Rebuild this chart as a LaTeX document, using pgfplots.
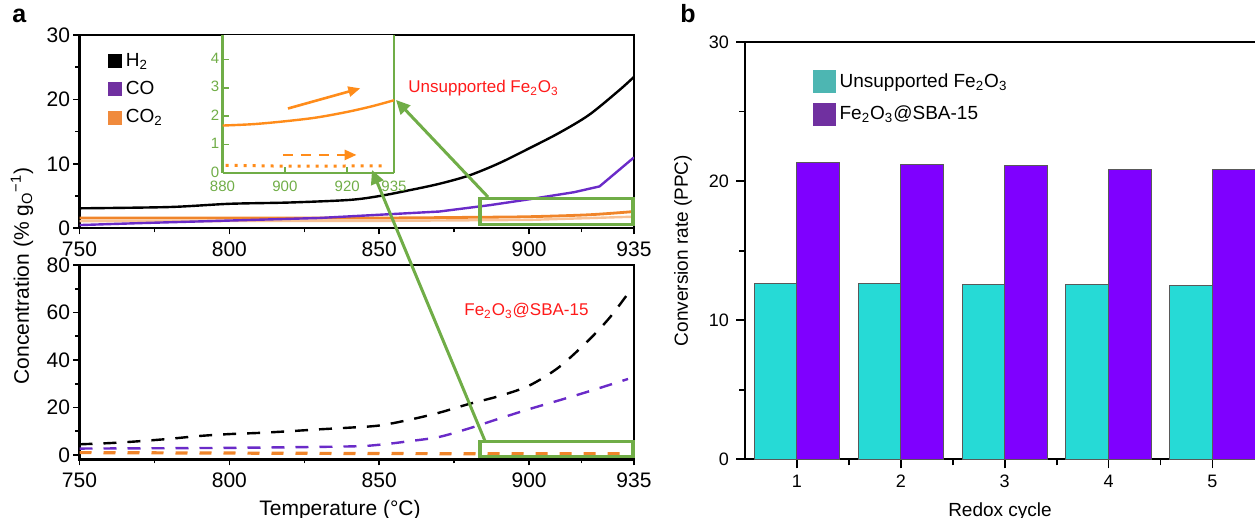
\documentclass[border=0pt]{standalone}
\usepackage{fontspec}
\setmainfont{Liberation Sans}
\usepackage{pgfplots}
\pgfplotsset{compat=1.18}
\usetikzlibrary{arrows.meta}

\definecolor{cCO}{HTML}{6A2BC8}
\definecolor{cCOsw}{HTML}{7030A0}
\definecolor{cCOt}{HTML}{F0852A}
\definecolor{cCOtsw}{HTML}{F08A3C}
\definecolor{cGreen}{HTML}{70AD47}
\definecolor{cOrng}{HTML}{FF8C1A}
\definecolor{cCyan}{HTML}{26DAD6}
\definecolor{cPurp}{HTML}{7F00FF}
\definecolor{cCyanSw}{HTML}{4DB6B2}
\definecolor{cRed}{HTML}{FF1A1A}

\pgfplotsset{
  panela/.style={
    scale only axis, width=277.25pt,
    xmin=750, xmax=935,
    xtick={750,800,850,900,935}, minor xtick={775,825,875,917.5},
    axis line style={line width=1.2pt},
    tick align=outside, tick pos=left,
    major tick length=3pt, minor tick length=2pt,
    every tick/.style={black, line width=0.8pt},
    /pgf/number format/assume math mode=true,
    ticklabel style={font=\fontsize{10.5}{12}\selectfont},
    yticklabel style={inner sep=1.5pt},
  },
}

\begin{document}
\begin{tikzpicture}
\useasboundingbox (0,0) rectangle (627.5pt,259pt);

% ---- panel a, top: unsupported Fe2O3
\begin{axis}[panela, at={(39.75pt,144.85pt)}, anchor=south west, height=96.65pt,
  ymin=0, ymax=30, ytick={0,10,20,30}, minor ytick={5,15,25},
  legend image code/.code={\fill[#1] (0pt,-3.25pt) rectangle (6.5pt,3.25pt);},
  legend style={at={(axis description cs:0.04,0.95)}, anchor=north west, draw=none, fill=none,
    font=\fontsize{9.5}{11}\selectfont, row sep=2pt},
  legend cell align=left]
\addlegendimage{black}
\addlegendimage{cCOsw}
\addlegendimage{cCOtsw}
\addplot[forget plot, color=cCOt!50, line width=1.2pt] coordinates {(750,1.1) (850,1.15) (900,1.3) (935,1.8)};
\addplot[forget plot, color=cCOt, line width=1.4pt, smooth] coordinates {
  (750,1.6) (800,1.6) (850,1.6) (880,1.7) (900,1.8) (920,2.1) (935,2.6)};
\addplot[forget plot, color=cCO, line width=1.2pt] coordinates {
  (750,0.5) (770,0.8) (800,1.2) (830,1.6) (850,2.1) (870,2.6) (887,3.6) (900,4.5) (915,5.6) (923.5,6.5) (935,11.0)};
\addplot[forget plot, color=black, line width=1.2pt, smooth] coordinates {
  (750,3.1) (780,3.3) (800,3.8) (820,4.0) (840,4.4) (850,5.0) (860,5.9) (870,6.9) (880,8.2)
  (890,10.1) (900,12.4) (910,14.8) (920,17.6) (930,21.4) (935,23.5)};
\legend{H\textsubscript{2}, CO, CO\textsubscript{2}}
\end{axis}

% ---- panel a, bottom: Fe2O3@SBA-15
\begin{axis}[panela, at={(39.75pt,29.25pt)}, anchor=south west, height=97.25pt,
  ymin=-1.9, ymax=80, ytick={0,20,40,60,80}, minor ytick={10,30,50,70}]
\addplot[color=cCOt, line width=1.6pt, dash pattern=on 6pt off 6pt] coordinates {
  (750,1.0) (800,0.8) (850,0.6) (900,0.5) (935,0.5)};
\addplot[color=cCO, line width=1.2pt, dash pattern=on 6.5pt off 5.5pt, smooth] coordinates {
  (750,2.7) (800,3.0) (840,3.6) (850,4.3) (860,5.8) (870,7.6) (880,11.2) (890,15.3) (900,19.3)
  (910,23.0) (920,26.8) (933,32.0)};
\addplot[color=black, line width=1.2pt, dash pattern=on 6.5pt off 5.5pt, smooth] coordinates {
  (750,4.5) (760,5.0) (770,5.8) (780,6.8) (790,8.0) (800,8.8) (810,9.3) (820,10.0) (830,10.8)
  (840,11.5) (850,12.4) (860,14.8) (870,17.8) (880,21.5) (890,24.8) (900,29.2) (910,37.0)
  (920,48.5) (927,58.0) (933,68.0)};
\end{axis}

% ---- inset
\begin{axis}[scale only axis, at={(111.25pt,172.5pt)}, anchor=south west, width=85.75pt, height=68.75pt,
  xmin=880, xmax=935, ymin=0, ymax=4.84,
  axis x line*=bottom, axis y line*=box, axis line style={-, cGreen, line width=1.3pt},
  axis background/.style={fill=white},
  xtick={880,900,920,935}, ytick={0,1,2,3,4},
  xtick pos=left, ytick pos=left, tick align=inside,
  major tick length=3pt, every tick/.style={cGreen, line width=0.8pt},
  /pgf/number format/assume math mode=true,
  ticklabel style={font=\fontsize{7.5}{9}\selectfont, text=cGreen},
  xticklabel style={inner sep=1.5pt, yshift=-2.5pt}, yticklabel style={inner sep=1.5pt, yshift=0.5pt}]
\addplot[color=cOrng, line width=1.2pt, smooth] coordinates {
  (880,1.67) (890,1.72) (900,1.82) (910,1.95) (920,2.15) (928,2.35) (935,2.56)};
\addplot[color=cOrng, line width=1.5pt, dash pattern=on 1.5pt off 3pt] coordinates {
  (881,0.27) (900,0.24) (932,0.25)};
\draw[cOrng, line width=1.3pt, -{Triangle[length=6pt,width=5pt]}] (axis cs:901,2.27) -- (axis cs:924.2,2.98);
\draw[cOrng, line width=1.3pt, dash pattern=on 5pt off 4pt, -{Triangle[length=6pt,width=5pt]}] (axis cs:899.4,0.635) -- (axis cs:923,0.635);
\end{axis}

% ---- panel b
\begin{axis}[scale only axis, at={(372.5pt,29.35pt)}, anchor=south west, width=255pt, height=208.65pt,
  xmin=0.5, xmax=5.41, ymin=0, ymax=30,
  axis x line*=box, axis y line*=left, axis line style={-, line width=1.2pt},
  xtick={1,2,3,4,5}, minor xtick={1.5,2.5,3.5,4.5},
  ytick={0,10,20,30}, minor ytick={5,15,25},
  xtick pos=left, ytick pos=left, tick align=outside,
  major tick length=4.5pt, minor tick length=3pt,
  every tick/.style={black, line width=0.9pt},
  /pgf/number format/assume math mode=true,
  ticklabel style={font=\fontsize{9}{11}\selectfont},
  label style={font=\fontsize{9.5}{11}\selectfont},
  xlabel={Redox cycle}, ylabel={Conversion rate (PPC)},
  xlabel style={at={(axis description cs:0.5,-0.1246)}, anchor=center},
  ylabel style={at={(axis description cs:-0.1216,0.5)}, anchor=center},
  legend style={at={(axis description cs:0.12,0.945)}, anchor=north west, draw=none, fill=none,
    font=\fontsize{9.5}{11}\selectfont, row sep=4pt},
  legend cell align=left]
\addplot[ybar, bar width=0.41, bar shift=-0.205, fill=cCyan, draw=black!65, line width=0.5pt,
  legend image code/.code={\fill[cCyanSw] (0pt,-5.5pt) rectangle (11pt,5.5pt);}] coordinates {
  (1,12.67) (2,12.65) (3,12.60) (4,12.60) (5,12.46)};
\addplot[ybar, bar width=0.41, bar shift=0.205, fill=cPurp, draw=black!65, line width=0.5pt,
  legend image code/.code={\fill[cCOsw] (0pt,-5.5pt) rectangle (11pt,5.5pt);}] coordinates {
  (1,21.32) (2,21.20) (3,21.13) (4,20.84) (5,20.81)};
\legend{Unsupported Fe\textsubscript{2}O\textsubscript{3}, Fe\textsubscript{2}O\textsubscript{3}@SBA-15}
\end{axis}

% ---- annotations
\draw[cGreen, line width=1.6pt] (240pt,146.85pt) rectangle (316.5pt,159.85pt);
\draw[cGreen, line width=1.6pt] (240pt,30.65pt) rectangle (316.5pt,38.15pt);
\draw[cGreen, line width=1.5pt, -{Triangle[length=7pt,width=6.5pt]}] (244pt,160.5pt) -- (198pt,209pt);
\draw[cGreen, line width=1.5pt, -{Triangle[length=7pt,width=6.5pt]}] (242.5pt,38.5pt) -- (186pt,174pt);
\node[anchor=west, text=cRed, font=\fontsize{8.5}{10}\selectfont, inner sep=0pt] at (204pt,215pt)
  {Unsupported Fe\textsubscript{2}O\textsubscript{3}};
\node[anchor=west, text=cRed, font=\fontsize{8.5}{10}\selectfont, inner sep=0pt] at (232pt,103.5pt)
  {Fe\textsubscript{2}O\textsubscript{3}@SBA-15};

\node[rotate=90, font=\fontsize{10.5}{12}\selectfont] at (11pt,121pt)
  {Concentration (\% g\textsubscript{O}\textsuperscript{−1})};
\node[font=\fontsize{10.5}{12}\selectfont] at (170pt,4pt) {Temperature (°C)};
\node[anchor=base west, inner sep=0pt, font=\bfseries\fontsize{12.5}{14}\selectfont] at (6pt,247.5pt) {a};
\node[anchor=base west, inner sep=0pt, font=\bfseries\fontsize{12.5}{14}\selectfont] at (340pt,247.5pt) {b};
\end{tikzpicture}
\end{document}
